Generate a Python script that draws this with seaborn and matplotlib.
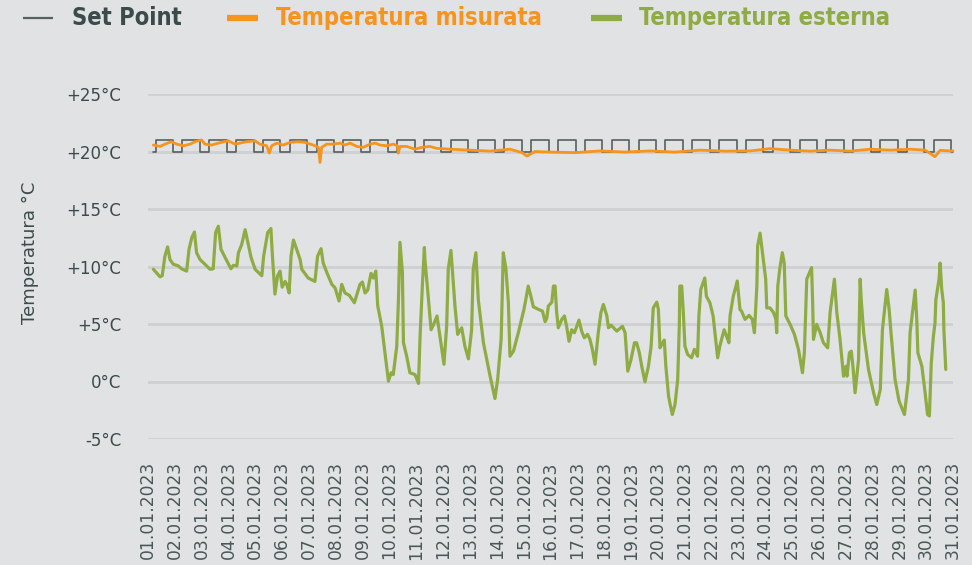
import matplotlib
matplotlib.use("Agg")
import matplotlib.pyplot as plt
from matplotlib.lines import Line2D
import seaborn as sns
import pandas as pd

# ---------------- data ----------------
date_labels = [f"{d:02d}.01.2023" for d in range(1, 32)]
tick_days = list(range(0, 31))

# external temperature (time in days from 01.01 00:00, value in °C)
ext_days = [0.20, 0.45, 0.53, 0.63, 0.73, 0.82, 0.94, 1.13, 1.25, 1.44, 1.53, 1.63, 1.73, 1.81, 1.94,
            2.12, 2.31, 2.43, 2.52, 2.62, 2.72, 2.87, 3.09, 3.18, 3.31, 3.37, 3.49, 3.62, 3.72, 3.84,
            3.99, 4.24, 4.31, 4.46, 4.58, 4.63, 4.73, 4.83, 4.92, 5.00, 5.11, 5.17, 5.26, 5.33, 5.42,
            5.54, 5.67, 5.73, 5.97, 6.22, 6.32, 6.45, 6.53, 6.66, 6.85, 6.97, 7.12, 7.22, 7.34, 7.50,
            7.69, 7.90, 7.99, 8.09, 8.19, 8.31, 8.40, 8.49, 8.56, 8.71, 8.83, 8.96, 9.06, 9.14, 9.27,
            9.33, 9.39, 9.48, 9.52, 9.64, 9.76, 9.95, 10.08, 10.14, 10.23, 10.30, 10.32, 10.42, 10.55,
            10.67, 10.77, 10.88, 11.03, 11.13, 11.19, 11.29, 11.34, 11.44, 11.54, 11.69, 11.81, 11.94,
            12.06, 12.12, 12.22, 12.31, 12.50, 12.75, 12.93, 13.03, 13.16, 13.24, 13.34, 13.43, 13.49,
            13.62, 13.80, 14.01, 14.07, 14.17, 14.27, 14.36, 14.55, 14.70, 14.80, 14.86, 14.92, 15.05,
            15.11, 15.17, 15.23, 15.29, 15.42, 15.52, 15.60, 15.69, 15.79, 15.89, 15.98, 16.06, 16.16,
            16.26, 16.38, 16.47, 16.56, 16.66, 16.78, 16.88, 16.97, 17.10, 17.16, 17.26, 17.47, 17.68,
            17.78, 17.88, 18.00, 18.13, 18.21, 18.31, 18.40, 18.52, 18.65, 18.75, 18.83, 18.96, 19.02,
            19.08, 19.14, 19.24, 19.30, 19.40, 19.46, 19.54, 19.64, 19.74, 19.80, 19.82, 19.89, 19.95,
            20.01, 20.11, 20.26, 20.36, 20.48, 20.53, 20.60, 20.69, 20.75, 20.81, 20.94, 21.06, 21.23,
            21.31, 21.47, 21.56, 21.65, 21.69, 21.81, 21.96, 22.06, 22.12, 22.25, 22.40, 22.52, 22.60,
            22.69, 22.72, 22.81, 22.90, 23.02, 23.06, 23.18, 23.31, 23.40, 23.43, 23.47, 23.55, 23.64,
            23.71, 23.77, 23.93, 24.09, 24.24, 24.39, 24.46, 24.55, 24.73, 24.77, 24.80, 24.92, 25.05,
            25.17, 25.33, 25.42, 25.58, 25.67, 25.79, 25.92, 26.01, 26.05, 26.14, 26.21, 26.27, 26.35,
            26.48, 26.54, 26.58, 26.67, 26.85, 27.04, 27.16, 27.29, 27.37, 27.53, 27.62, 27.69, 27.84,
            27.99, 28.19, 28.34, 28.40, 28.59, 28.65, 28.69, 28.84, 28.96, 29.05, 29.12, 29.19, 29.27,
            29.33, 29.36, 29.48, 29.52, 29.58, 29.64, 29.66, 29.73]
ext_vals = [9.76, 9.1, 9.2, 10.9, 11.7, 10.6, 10.2, 10.05, 9.8, 9.6, 11.5, 12.5, 13.0, 11.2, 10.6,
            10.2, 9.76, 9.8, 12.95, 13.5, 11.5, 10.8, 9.8, 10.1, 10.05, 11.2, 11.9, 13.2, 12.1, 10.8,
            9.76, 9.2, 10.9, 12.95, 13.3, 11.2, 7.6, 9.2, 9.6, 8.2, 8.7, 8.45, 7.7, 10.9, 12.3,
            11.5, 10.6, 9.76, 9.0, 8.7, 10.9, 11.55, 10.3, 9.5, 8.45, 8.15, 7.0, 8.45, 7.7, 7.5,
            6.85, 8.45, 8.65, 7.7, 7.95, 9.4, 9.0, 9.6, 6.6, 4.8, 2.5, 0.03, 0.76, 0.6, 3.07,
            6.85, 12.1, 9.5, 3.37, 2.2, 0.76, 0.6, -0.17, 3.95, 8.6, 11.65, 10.6, 8.0, 4.5,
            5.1, 5.7, 3.95, 1.5, 4.8, 9.76, 11.4, 9.76, 6.56, 4.1, 4.67, 3.07, 1.97,
            4.5, 9.76, 11.2, 7.1, 3.37, 0.46, -1.48, 0.17, 3.66, 11.2, 9.76, 6.85, 2.2,
            2.64, 4.24, 6.27, 7.0, 8.3, 7.4, 6.5, 6.27, 6.12, 5.2, 5.5, 6.56, 6.9,
            8.3, 8.3, 6.0, 4.67, 5.4, 5.7, 4.8, 3.5, 4.5, 4.24, 4.8, 5.34, 4.38,
            3.8, 4.1, 3.66, 2.8, 1.5, 4.24, 6.0, 6.7, 5.7, 4.67, 4.9, 4.38, 4.8,
            4.24, 0.9, 1.9, 3.37, 3.37, 2.5, 1.33, -0.03, 1.33, 3.07, 6.4, 6.9, 6.27,
            2.93, 3.2, 3.6, 1.3, -1.28, -2.0, -2.87, -2.0, 0.17, 4.8, 8.3, 8.3, 6.0,
            3.07, 2.35, 2.06, 2.8, 2.2, 5.7, 8.0, 8.6, 9.0, 7.4, 6.85, 5.7, 2.06,
            3.07, 4.5, 3.95, 3.37, 5.7, 7.4, 8.74, 6.27, 6.12, 5.4, 5.75, 5.4, 4.24,
            8.3, 11.8, 12.9, 11.2, 8.9, 6.4, 6.4, 6.0, 5.4, 4.24, 8.3, 9.9, 11.2,
            10.3, 5.7, 4.97, 4.1, 2.8, 0.76, 2.5, 8.9, 9.9, 6.85, 3.66, 4.97, 4.24,
            3.37, 2.93, 6.0, 8.9, 6.0, 3.66, 0.46, 1.33, 0.46, 2.5, 2.64, 1.33, -0.98,
            1.9, 8.9, 7.1, 4.24, 1.05, -0.98, -2.0, -0.7, 4.5, 8.0, 6.27, 4.24, 0.17,
            -1.7, -2.87, 0.17, 4.24, 7.95, 5.4, 2.5, 1.33, -0.98, -2.87, -3.0, 1.6, 3.95,
            5.1, 7.1, 8.9, 10.3, 8.0, 6.85, 4.5, 1.05]

# measured indoor temperature
meas_days = [0.20, 0.45, 0.63, 0.88, 1.07, 1.32, 1.57, 1.75, 2.00, 2.12, 2.37, 2.62, 2.99, 3.24,
             3.43, 3.68, 3.99, 4.17, 4.42, 4.52, 4.61, 4.80, 5.04, 5.29, 5.60, 5.85, 6.16, 6.35,
             6.41, 6.47, 6.66, 6.91, 7.16, 7.34, 7.53, 7.78, 8.02, 8.27, 8.46, 8.65, 8.90, 9.14,
             9.29, 9.33, 9.39, 9.64, 9.95, 10.20, 10.51, 10.76, 11.26, 12.00, 12.75, 13.49, 13.94,
             14.12, 14.42, 14.98, 15.91, 16.85, 17.78, 18.71, 19.64, 20.58, 21.51, 22.44, 23.18,
             23.93, 24.67, 25.42, 26.16, 26.91, 27.66, 28.40, 28.96, 29.33, 29.52, 29.89, 30.0]
meas_vals = [20.56, 20.44, 20.64, 20.85, 20.64, 20.5, 20.64, 20.85, 21.0, 20.64, 20.56, 20.73, 20.93, 20.64,
             20.73, 20.85, 20.93, 20.64, 20.5, 19.86, 20.5, 20.73, 20.56, 20.79, 20.85, 20.79, 20.56, 20.36,
             19.05, 20.36, 20.64, 20.64, 20.73, 20.56, 20.73, 20.44, 20.36, 20.64, 20.73, 20.56, 20.5, 20.64,
             20.5, 19.86, 20.44, 20.44, 20.2, 20.36, 20.44, 20.27, 20.2, 20.12, 20.03, 20.2, 19.9,
             19.6, 20.0, 19.95, 19.9, 20.05, 19.95, 20.05, 19.95, 20.12, 20.03, 20.05, 20.25,
             20.12, 20.03, 20.12, 20.03, 20.2, 20.12, 20.2, 20.12, 19.55, 20.1, 20.05, 20.05]

# set point schedule: comfort (21 °C) from ~06:45 to ~22:30, reduced (20 °C) otherwise
sp_comfort = 21
sp_reduced = 20
sp_comfort_from_hour = 6.75
sp_comfort_to_hour = 22.5
sp_first_day = 0.19
sp_last_day = 30.0

# ------------- build set point steps -------------
events = []
for d in range(0, 31):
    events.append((d + sp_comfort_from_hour / 24, sp_comfort))
    events.append((d + sp_comfort_to_hour / 24, sp_reduced))
sp_t, sp_v = [sp_first_day], [sp_reduced]
for t, val in events:
    if sp_first_day < t < sp_last_day:
        sp_t += [t, t]
        sp_v += [sp_v[-1], val]
sp_t.append(sp_last_day)
sp_v.append(sp_v[-1])

ext_df = pd.DataFrame({"day": ext_days, "temp": ext_vals})
meas_df = pd.DataFrame({"day": meas_days, "temp": meas_vals})
sp_df = pd.DataFrame({"day": sp_t, "temp": sp_v})

# ------------- style -------------
BG = "#e1e2e4"
GRID = "#cfd0d2"
TXT = "#3b4a4a"
C_SP = "#56615f"
C_MEAS = "#f7941d"
C_EXT = "#8fab43"

sns.set_theme(style="white")
plt.rcParams["font.family"] = ["DejaVu Sans"]

fig = plt.figure(figsize=(9.72, 5.65), dpi=100, facecolor=BG)
ax = fig.add_axes([148 / 972, 1 - 439 / 565, 805 / 972, 345 / 565])
ax.set_facecolor(BG)

sns.lineplot(data=sp_df, x="day", y="temp", ax=ax, color=C_SP, lw=1.2, sort=False,
             estimator=None, clip_on=False, zorder=3)
sns.lineplot(data=ext_df, x="day", y="temp", ax=ax, color=C_EXT, lw=2.3, sort=False,
             estimator=None, clip_on=False, zorder=4)
sns.lineplot(data=meas_df, x="day", y="temp", ax=ax, color=C_MEAS, lw=2.0, sort=False,
             estimator=None, clip_on=False, zorder=5)

ax.set_xlim(0, 30)
ax.set_ylim(-5, 25)
yt = [-5, 0, 5, 10, 15, 20, 25]
ax.set_yticks(yt)
ax.set_yticklabels([("0°C" if v == 0 else (f"+{v}°C" if v > 0 else f"{v}°C")) for v in yt],
                   fontsize=12, color=TXT)
ax.set_xticks(tick_days)
ax.set_xticklabels(date_labels, rotation=90, fontsize=12.3, color="#4a5757")
ax.tick_params(axis="y", length=0, pad=19)
ax.tick_params(axis="x", length=0, pad=16)
ax.grid(axis="y", color=GRID, lw=2, zorder=0)
ax.grid(axis="x", visible=False)
ax.set_axisbelow(True)
for s in ax.spines.values():
    s.set_visible(False)
ax.set_xlabel("")
ax.set_ylabel("Temperatura °C", fontsize=13, color=TXT)
ax.yaxis.set_label_coords(-0.136, 0.54)

# ------------- legend (top row) -------------
ly = 1 - 18 / 565
items = [("Set Point", C_SP, 1.6, 23, 53, 72, TXT),
         ("Temperatura misurata", C_MEAS, 4.5, 227, 258, 276, C_MEAS),
         ("Temperatura esterna", C_EXT, 4.5, 591, 622, 639, C_EXT)]
for label, col, lw, x1, x2, xt, tc in items:
    fig.add_artist(Line2D([x1 / 972, x2 / 972], [ly, ly], color=col, lw=lw,
                          solid_capstyle="butt", transform=fig.transFigure))
    fig.text(xt / 972, ly, label, color=tc, fontsize=17, fontweight="bold",
             fontstretch="condensed", ha="left", va="center")

fig.savefig("out.png", dpi=100, facecolor=BG)
